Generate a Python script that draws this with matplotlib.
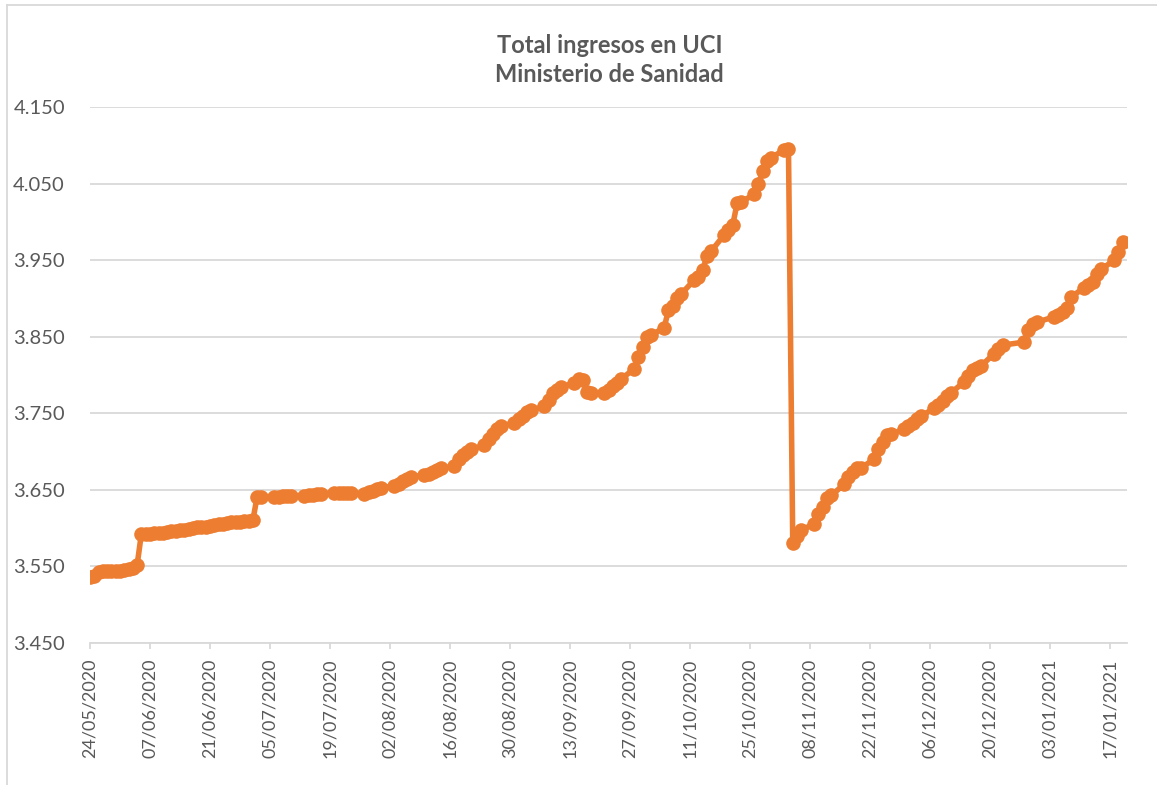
import matplotlib
matplotlib.use("Agg")
import matplotlib.pyplot as plt
import matplotlib.dates as mdates
from matplotlib.lines import Line2D
from matplotlib.ticker import FuncFormatter
import pandas as pd

# daily reports 24/05 - 30/06/2020, then weekdays only (no holidays 24-25/12 and 01/01)
daily_start = "2020-05-24"
daily_end = "2020-06-30"
wk_start = "2020-07-01"
wk_end = "2021-01-20"
holidays = ["2020-12-24", "2020-12-25", "2021-01-01"]

vals_daily = [3536, 3538, 3543, 3544, 3544, 3544, 3544, 3544, 3545, 3546,
              3548, 3552, 3593, 3593, 3593, 3594, 3594, 3594, 3595, 3596,
              3596, 3597, 3598, 3599, 3600, 3601, 3602, 3602, 3603, 3604,
              3605, 3606, 3607, 3608, 3608, 3608, 3609, 3609]

vals_weekdays = [
    3610, 3641, 3641,
    3641, 3641, 3642, 3642, 3642,
    3642, 3643, 3643, 3644, 3645,
    3646, 3646, 3646, 3646, 3646,
    3645, 3647, 3649, 3651, 3653,
    3655, 3658, 3661, 3664, 3667,
    3669, 3671, 3673, 3676, 3678,
    3681, 3690, 3696, 3700, 3703,
    3708, 3716, 3723, 3729, 3734,
    3737, 3742, 3747, 3752, 3754,
    3759, 3768, 3777, 3781, 3784,
    3790, 3795, 3794, 3778, 3777,
    3777, 3781, 3785, 3790, 3795,
    3808, 3823, 3837, 3849, 3852,
    3862, 3885, 3890, 3900, 3906,
    3924, 3928, 3937, 3956, 3962,
    3983, 3990, 3996, 4024, 4026,
    4036, 4050, 4066, 4080, 4084,
    4094, 4095, 3580, 3590, 3597,
    3606, 3618, 3628, 3640, 3643,
    3657, 3667, 3673, 3678, 3679,
    3690, 3703, 3713, 3721, 3723,
    3729, 3733, 3737, 3742, 3746,
    3757, 3761, 3766, 3773, 3777,
    3791, 3799, 3806, 3809, 3812,
    3828, 3834, 3839,
    3843, 3859, 3866, 3869,
    3876, 3879, 3882, 3888, 3902,
    3914, 3918, 3922, 3932, 3938,
    3950, 3961, 3974,
]

y_ticks = [3450, 3550, 3650, 3750, 3850, 3950, 4050, 4150]
title = "Total ingresos en UCI\nMinisterio de Sanidad"

d1 = pd.date_range(daily_start, daily_end, freq="D")
d2 = pd.bdate_range(wk_start, wk_end)
d2 = d2[~d2.isin(pd.to_datetime(holidays))]
dates = d1.append(d2)
values = vals_daily + vals_weekdays

grey = "#595959"
light = "#D9D9D9"
orange = "#ED7D31"
plt.rcParams["font.family"] = ["Lato", "DejaVu Sans"]

fig = plt.figure(figsize=(11.57, 7.85), dpi=100)
ax = fig.add_axes([90/1157, 1-643/785, (1127-90)/1157, (643-107)/785])

ax.plot(dates, values, color=orange, lw=4, marker="o", ms=10.5,
        markeredgewidth=0, solid_joinstyle="round", zorder=3)

ax.set_ylim(3450, 4150)
ax.set_yticks(y_ticks)
ax.yaxis.set_major_formatter(FuncFormatter(lambda v, p: f"{int(round(v)):,}".replace(",", ".")))
ax.grid(axis="y", color=light, lw=1.3, zorder=0)

ax.set_xlim(pd.Timestamp("2020-05-24"), pd.Timestamp("2021-01-21"))
ax.set_xticks(pd.date_range("2020-05-24", "2021-01-17", freq="14D"))
ax.xaxis.set_major_formatter(mdates.DateFormatter("%d/%m/%Y"))

for s in ["top", "right", "left"]:
    ax.spines[s].set_visible(False)
ax.spines["bottom"].set_color(light)
ax.spines["bottom"].set_linewidth(1.3)

ax.tick_params(axis="y", length=0, pad=18, labelsize=14.5, labelcolor=grey)
ax.tick_params(axis="x", length=4, width=1.3, color=light, pad=7,
               labelsize=13, labelcolor=grey, labelrotation=90)

fig.text(0.527, 1-60/785, title, ha="center", va="center", fontsize=17,
         fontweight="bold", color=grey, linespacing=1.35)

# chart frame (only top and left edges visible in the crop)
fig.add_artist(Line2D([7/1157, 1], [1-5/785, 1-5/785], color=light, lw=1.3))
fig.add_artist(Line2D([7/1157, 7/1157], [0, 1-5/785], color=light, lw=1.3))

fig.savefig("out.png", dpi=100)
